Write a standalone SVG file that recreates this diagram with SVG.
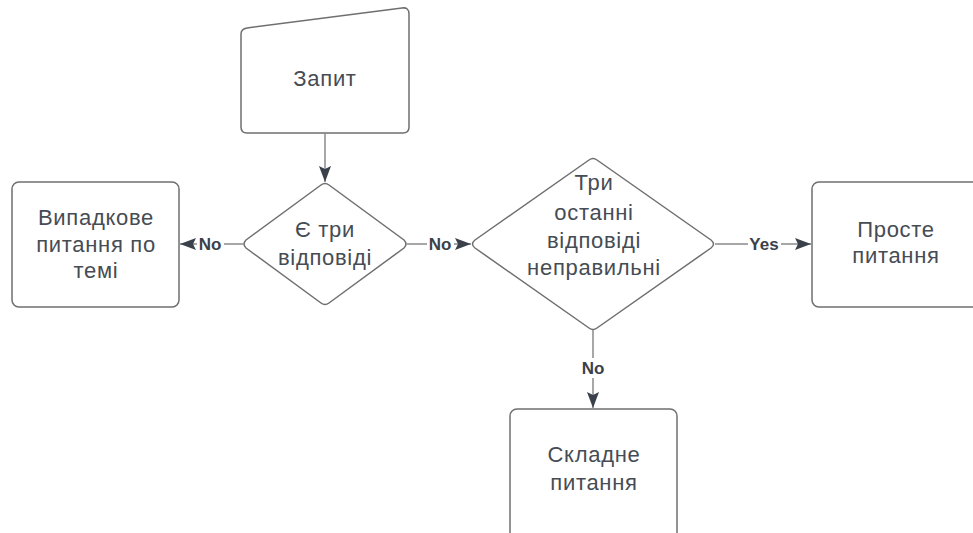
<svg xmlns="http://www.w3.org/2000/svg" width="973" height="533" viewBox="0 0 973 533">
  <defs>
    <marker id="arrow" viewBox="0 0 16 12" refX="16" refY="6" markerWidth="16" markerHeight="12" markerUnits="userSpaceOnUse" orient="auto">
      <path d="M0,0 L16,6 L0,12 L3,6 Z" fill="#3a414a"/>
    </marker>
  </defs>
  <style>
    .shape { fill: #ffffff; stroke: #6f6f6f; stroke-width: 1.5; }
    .txt { font-family: "Liberation Sans", Arial, sans-serif; font-size: 22px; letter-spacing: 0.7px; fill: #464c54; text-anchor: middle; }
    .edge { fill: none; stroke: #8a8a8a; stroke-width: 1.5; }
    .lbl { font-family: "Liberation Sans", Arial, sans-serif; font-size: 17px; font-weight: bold; fill: #3a414a; text-anchor: middle; }
    .bg { fill: #ffffff; }
  </style>
  <rect width="973" height="533" fill="#ffffff"/>

  <!-- manual input: request -->
  <g id="node-request">
    <path class="shape" d="M247,28 L402,8 Q409,7 409,14 L409,127 Q409,133 403,133 L247,133 Q241,133 241,127 L241,34 Q241,29 247,28 Z"/>
    <text class="txt" x="325" y="86">Запит</text>
  </g>

  <!-- decision: three answers -->
  <g id="node-three-answers">
    <path class="shape" d="M321,185 Q325,182 329,185 L404,240 Q408,244 404,248 L329,303 Q325,306 321,303 L246,248 Q242,244 246,240 Z"/>
    <text class="txt" x="325" y="237">Є три</text>
    <text class="txt" x="325" y="265">відповіді</text>
  </g>

  <!-- random topic question -->
  <g id="node-random">
    <rect class="shape" x="12" y="182" width="167" height="125" rx="7"/>
    <text class="txt" x="96" y="225">Випадкове</text>
    <text class="txt" x="96" y="252">питання по</text>
    <text class="txt" x="96" y="278">темі</text>
  </g>

  <!-- decision: last three wrong -->
  <g id="node-last-wrong">
    <path class="shape" d="M589,160 Q593,157 597,160 L711,240 Q716,244 711,248 L597,328 Q593,331 589,328 L475,248 Q470,244 475,240 Z"/>
    <text class="txt" x="594" y="190">Три</text>
    <text class="txt" x="594" y="220">останні</text>
    <text class="txt" x="594" y="248">відповіді</text>
    <text class="txt" x="594" y="275">неправильні</text>
  </g>

  <!-- easy question -->
  <g id="node-easy">
    <rect class="shape" x="812" y="182" width="168" height="125" rx="7"/>
    <text class="txt" x="896" y="237">Просте</text>
    <text class="txt" x="896" y="263">питання</text>
  </g>

  <!-- hard question -->
  <g id="node-hard">
    <rect class="shape" x="510" y="409" width="167" height="140" rx="7"/>
    <text class="txt" x="594" y="462">Складне</text>
    <text class="txt" x="594" y="490">питання</text>
  </g>

  <!-- connectors -->
  <g id="connectors">
    <path class="edge" d="M325,133 L325,182" marker-end="url(#arrow)"/>

    <path class="edge" d="M243,244 L180,244" marker-end="url(#arrow)"/>
    <rect class="bg" x="197" y="234" width="27" height="20"/>
    <text class="lbl" x="210" y="250">No</text>

    <path class="edge" d="M407,244 L471,244" marker-end="url(#arrow)"/>
    <rect class="bg" x="427" y="234" width="27" height="20"/>
    <text class="lbl" x="440" y="250">No</text>

    <path class="edge" d="M715,244 L811,244" marker-end="url(#arrow)"/>
    <rect class="bg" x="748" y="234" width="33" height="20"/>
    <text class="lbl" x="764" y="250">Yes</text>

    <path class="edge" d="M593,330 L593,408" marker-end="url(#arrow)"/>
    <rect class="bg" x="579" y="358" width="28" height="20"/>
    <text class="lbl" x="593" y="374">No</text>
  </g>
</svg>
